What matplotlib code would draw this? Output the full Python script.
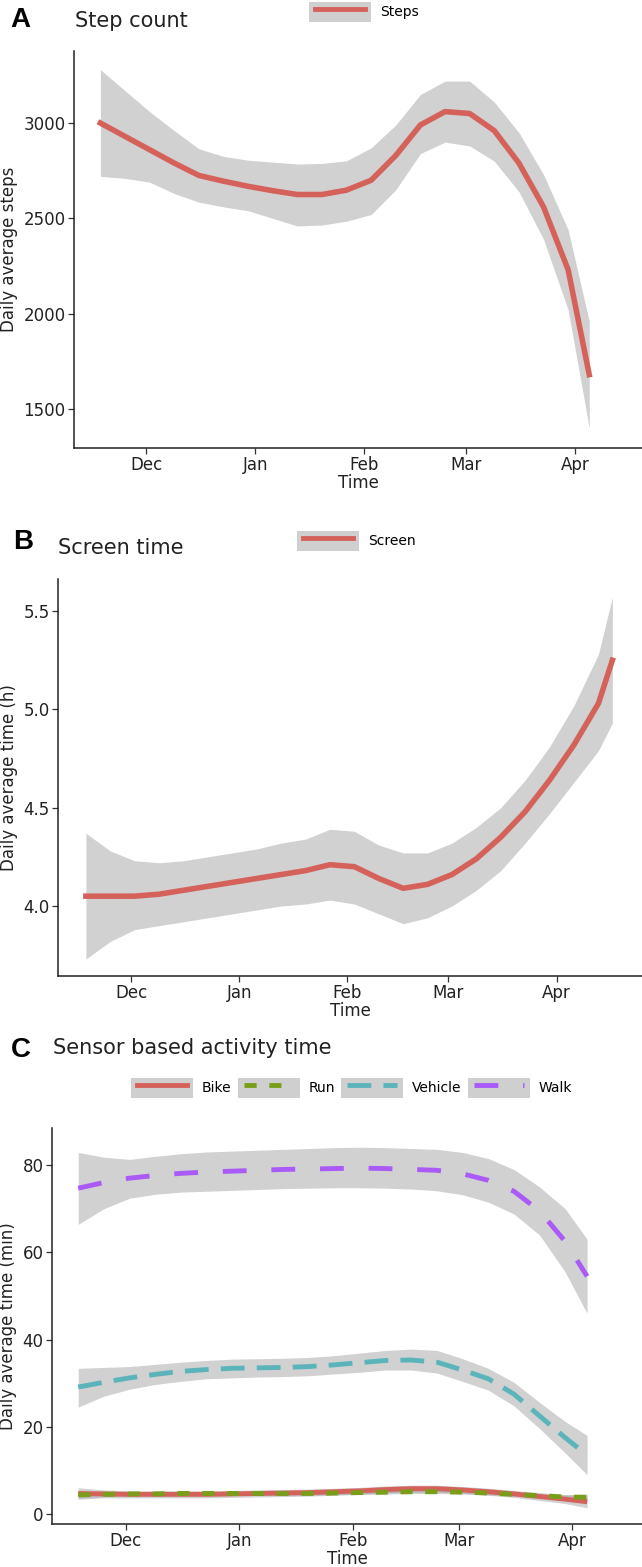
import numpy as np
import matplotlib
matplotlib.use("Agg")
import matplotlib.pyplot as plt
from matplotlib.patches import Patch
from matplotlib.lines import Line2D
from matplotlib.legend_handler import HandlerTuple, HandlerLine2D

# ---- data ----
weeks_a = np.array(['2019-11-18', '2019-11-25', '2019-12-02', '2019-12-09', '2019-12-16',
                    '2019-12-23', '2019-12-30', '2020-01-06', '2020-01-13', '2020-01-20',
                    '2020-01-27', '2020-02-03', '2020-02-10', '2020-02-17', '2020-02-24',
                    '2020-03-02', '2020-03-09', '2020-03-16', '2020-03-23', '2020-03-30',
                    '2020-04-05'], dtype='datetime64[D]')

steps_mean = [3000, 2930, 2860, 2790, 2725, 2695, 2668, 2645, 2625, 2625, 2648,
              2700, 2830, 2990, 3060, 3050, 2960, 2790, 2560, 2230, 1680]
steps_hi = [3280, 3170, 3060, 2960, 2865, 2825, 2805, 2795, 2785, 2788, 2802,
            2870, 2990, 3150, 3220, 3220, 3110, 2950, 2730, 2440, 1960]
steps_lo = [2720, 2710, 2690, 2630, 2585, 2560, 2540, 2500, 2460, 2465, 2485,
            2520, 2650, 2840, 2900, 2880, 2800, 2640, 2390, 2020, 1400]

weeks_b = np.array(['2019-11-18', '2019-11-25', '2019-12-02', '2019-12-09', '2019-12-16',
                    '2019-12-23', '2019-12-30', '2020-01-06', '2020-01-13', '2020-01-20',
                    '2020-01-27', '2020-02-03', '2020-02-10', '2020-02-17', '2020-02-24',
                    '2020-03-02', '2020-03-09', '2020-03-16', '2020-03-23', '2020-03-30',
                    '2020-04-06', '2020-04-13', '2020-04-17'], dtype='datetime64[D]')

screen_mean = [4.05, 4.05, 4.05, 4.06, 4.08, 4.10, 4.12, 4.14, 4.16, 4.18, 4.21, 4.20,
               4.14, 4.09, 4.11, 4.16, 4.24, 4.35, 4.48, 4.64, 4.82, 5.03, 5.25]
screen_hi = [4.37, 4.28, 4.23, 4.22, 4.23, 4.25, 4.27, 4.29, 4.32, 4.34, 4.39, 4.38,
             4.31, 4.27, 4.27, 4.32, 4.40, 4.50, 4.64, 4.81, 5.02, 5.28, 5.57]
screen_lo = [3.73, 3.82, 3.88, 3.90, 3.92, 3.94, 3.96, 3.98, 4.00, 4.01, 4.03, 4.01,
             3.96, 3.91, 3.94, 4.00, 4.08, 4.18, 4.32, 4.47, 4.63, 4.79, 4.93]

weeks_c = weeks_a

bike_mean = [4.7, 4.6, 4.5, 4.5, 4.5, 4.5, 4.6, 4.7, 4.8, 4.9, 5.1,
             5.3, 5.6, 5.8, 5.8, 5.5, 5.1, 4.6, 4.0, 3.4, 2.8]
bike_hi = [6.0, 5.5, 5.3, 5.3, 5.3, 5.3, 5.4, 5.5, 5.6, 5.7, 5.9,
           6.1, 6.4, 6.6, 6.6, 6.3, 5.9, 5.4, 4.9, 4.4, 4.2]
bike_lo = [3.4, 3.7, 3.7, 3.7, 3.7, 3.7, 3.8, 3.9, 4.0, 4.1, 4.3,
           4.5, 4.8, 5.0, 5.0, 4.7, 4.3, 3.8, 3.1, 2.4, 1.4]

run_mean = [4.4, 4.5, 4.6, 4.6, 4.7, 4.7, 4.7, 4.7, 4.7, 4.7, 4.8,
            4.9, 5.0, 5.1, 5.1, 5.0, 4.8, 4.5, 4.2, 3.9, 3.8]
run_hi = [5.2, 5.0, 5.0, 5.0, 5.1, 5.1, 5.1, 5.1, 5.1, 5.1, 5.2,
          5.3, 5.4, 5.5, 5.5, 5.4, 5.2, 4.9, 4.7, 4.4, 4.6]
run_lo = [3.6, 4.0, 4.2, 4.2, 4.3, 4.3, 4.3, 4.3, 4.3, 4.3, 4.4,
          4.5, 4.6, 4.7, 4.7, 4.6, 4.4, 4.1, 3.7, 3.4, 3.0]

vehicle_mean = [29.1, 30.2, 31.2, 32.0, 32.7, 33.1, 33.4, 33.5, 33.6, 33.8, 34.2,
                34.7, 35.2, 35.3, 34.8, 33.0, 31.0, 27.5, 22.5, 17.5, 13.5]
vehicle_hi = [33.4, 33.6, 33.8, 34.3, 34.8, 35.2, 35.5, 35.6, 35.7, 35.9, 36.3,
              36.9, 37.5, 37.8, 37.5, 35.6, 33.4, 30.2, 25.6, 21.2, 18.0]
vehicle_lo = [24.5, 27.0, 28.6, 29.7, 30.4, 31.0, 31.2, 31.4, 31.5, 31.7, 32.1,
              32.5, 33.0, 33.0, 32.3, 30.4, 28.4, 24.8, 19.6, 14.0, 9.0]

walk_mean = [74.7, 76.0, 77.0, 77.6, 78.1, 78.4, 78.6, 78.8, 79.0, 79.1, 79.2,
             79.3, 79.2, 79.0, 78.8, 78.0, 76.5, 74.0, 69.5, 62.5, 54.5]
walk_hi = [82.9, 81.8, 81.3, 82.0, 82.6, 83.0, 83.2, 83.4, 83.6, 83.8, 84.0,
           84.1, 84.0, 83.8, 83.6, 82.9, 81.5, 79.0, 75.0, 70.0, 63.0]
walk_lo = [66.4, 70.0, 72.4, 73.3, 73.8, 74.0, 74.2, 74.4, 74.6, 74.7, 74.8,
           74.8, 74.7, 74.5, 74.1, 73.2, 71.5, 68.8, 64.0, 55.5, 46.0]

month_ticks = np.array(['2019-12-01', '2020-01-01', '2020-02-01', '2020-03-01',
                        '2020-04-01'], dtype='datetime64[D]')
month_labels = ['Dec', 'Jan', 'Feb', 'Mar', 'Apr']

# ---- style ----
RED = '#D5625A'
GREEN = '#7A9E1A'
CYAN = '#5BB4BA'
PURPLE = '#A95AF7'
BAND = '#999999'
BAND_ALPHA = 0.45

W, H = 642, 1567
fig = plt.figure(figsize=(W / 100, H / 100), dpi=100)


class InsetLine(HandlerLine2D):
    # legend key line sits inside the grey key box, like ggplot
    def get_xdata(self, legend, xdescent, ydescent, width, height, fontsize):
        x = np.array([-xdescent + 0.1 * width, -xdescent + 0.9 * width])
        return x, x


def px_axes(left, top, right, bottom):
    return fig.add_axes([left / W, 1 - bottom / H, (right - left) / W, (bottom - top) / H])


def style_axes(ax, xlim, ylim, yticks, ylabel):
    for s in ['top', 'right']:
        ax.spines[s].set_visible(False)
    for s in ['left', 'bottom']:
        ax.spines[s].set_linewidth(1.1)
        ax.spines[s].set_color('#222222')
    ax.set_xlim(np.datetime64(xlim[0]), np.datetime64(xlim[1]))
    ax.set_ylim(*ylim)
    ax.set_xticks(month_ticks)
    ax.set_xticklabels(month_labels)
    ax.set_yticks(yticks)
    ax.tick_params(length=4, width=0.9, color='#333333', pad=2, labelsize=12,
                   labelcolor='#222222')
    ax.set_xlabel('Time', fontsize=12, labelpad=0, color='#222222')
    ax.set_ylabel(ylabel, fontsize=12, labelpad=4, color='#222222')


def panel_heading(letter, title, x_letter, x_title, y_letter, y_title):
    fig.text(x_letter / W, 1 - y_letter / H, letter, fontsize=20, fontweight='bold',
             family='Liberation Sans', ha='left', va='center')
    fig.text(x_title / W, 1 - y_title / H, title, fontsize=15, ha='left', va='center',
             color='#222222')


def key_legend(handles, labels, x, y, ncol=1):
    tup = [(Patch(facecolor='#cfcfcf', edgecolor='none'), h) for h in handles]
    fig.legend(tup, labels, loc='center left', bbox_to_anchor=(x / W, 1 - y / H),
               ncol=ncol, frameon=False, fontsize=10, handlelength=4.45,
               handleheight=1.8, handletextpad=0.65, columnspacing=0.45,
               borderpad=0, borderaxespad=0,
               handler_map={tuple: HandlerTuple(ndivide=1), Line2D: InsetLine()})


# ---- A: step count ----
axA = px_axes(74, 51, 642, 448)
axA.fill_between(weeks_a, steps_lo, steps_hi, color=BAND, alpha=BAND_ALPHA, lw=0)
axA.plot(weeks_a, steps_mean, color=RED, lw=4)
style_axes(axA, ('2019-11-10T12', '2020-04-20'), (1295, 3378),
           [1500, 2000, 2500, 3000], 'Daily average steps')
panel_heading('A', 'Step count', 10, 75, 20, 21)
key_legend([Line2D([], [], color=RED, lw=3.5)], ['Steps'], 309, 12)

# ---- B: screen time ----
axB = px_axes(58, 579, 642, 976)
axB.fill_between(weeks_b, screen_lo, screen_hi, color=BAND, alpha=BAND_ALPHA, lw=0)
axB.plot(weeks_b, screen_mean, color=RED, lw=4)
style_axes(axB, ('2019-11-10', '2020-04-25T12'), (3.644, 5.663),
           [4.0, 4.5, 5.0, 5.5], 'Daily average time (h)')
panel_heading('B', 'Screen time', 13, 58, 542, 548)
key_legend([Line2D([], [], color=RED, lw=3.5)], ['Screen'], 297, 541)

# ---- C: sensor based activity ----
axC = px_axes(52, 1128, 642, 1524)
series = [
    ('Bike', bike_mean, bike_lo, bike_hi, RED, None),
    ('Run', run_mean, run_lo, run_hi, GREEN, (2.5, 2.6)),
    ('Vehicle', vehicle_mean, vehicle_lo, vehicle_hi, CYAN, (4.9, 2.5)),
    ('Walk', walk_mean, walk_lo, walk_hi, PURPLE, (4.9, 5.1)),
]
handles = []
for name, mean, lo, hi, col, dash in series:
    axC.fill_between(weeks_c, lo, hi, color=BAND, alpha=BAND_ALPHA, lw=0)
    line, = axC.plot(weeks_c, mean, color=col, lw=3.5, solid_capstyle='butt',
                     dash_capstyle='butt')
    key = Line2D([], [], color=col, lw=3.5, dash_capstyle='butt')
    if dash is not None:
        line.set_dashes(dash)
        key.set_dashes(dash)
    handles.append(key)
style_axes(axC, ('2019-11-10T20', '2020-04-20'), (-2.3, 88.5),
           [0, 20, 40, 60, 80], 'Daily average time (min)')
panel_heading('C', 'Sensor based activity time', 11, 53, 1050, 1048)
key_legend(handles, [s[0] for s in series], 131, 1088, ncol=4)

fig.savefig('out.png', dpi=100)
